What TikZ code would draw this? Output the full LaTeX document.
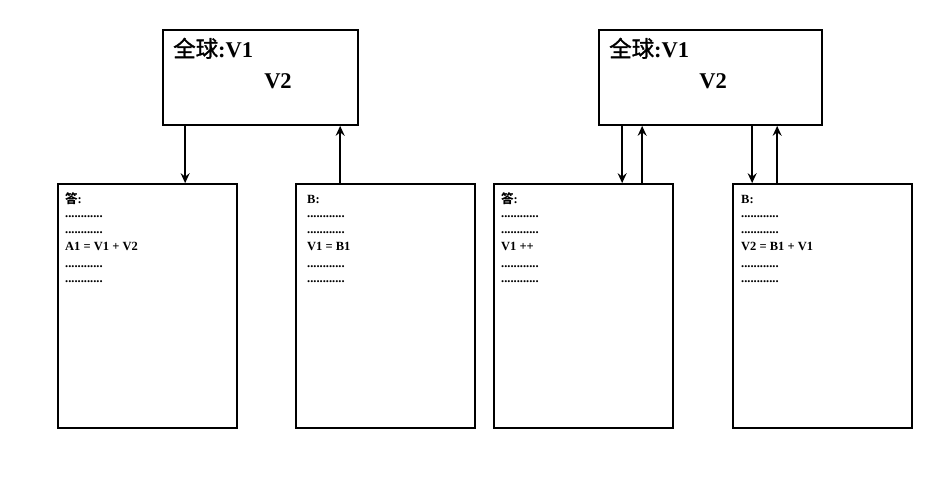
\documentclass[tikz,border=0pt]{standalone}
\usepackage{fontspec}
\setmainfont{Liberation Serif}
\newfontfamily\cjk{Noto Sans CJK SC}
\newfontfamily\cjkm[FakeBold=1.3]{Noto Sans CJK SC}
\usetikzlibrary{arrows.meta}
\tikzset{
  box/.style={draw=black, line width=1.7pt, fill=white, inner sep=0pt},
  arr/.style={line width=1.7pt, -{Stealth[length=10pt,width=9pt,inset=3.5pt]}},
  big/.style={font=\fontsize{22.5}{22.5}\selectfont\bfseries, inner sep=0pt, anchor=base west},
  small/.style={font=\fontsize{12.5}{12.5}\selectfont\bfseries, inner sep=0pt, anchor=base west},
}
\newcommand{\dotline}{............}
\begin{document}
\begin{tikzpicture}[x=1pt,y=-1pt]
\useasboundingbox (0,0) rectangle (935,482);
% top boxes
\node[box, minimum width=195pt, minimum height=95pt] (T1) at (260.5,77.5) {};
\node[box, minimum width=223pt, minimum height=95pt] (T2) at (710.5,77.5) {};
% bottom boxes
\node[box, minimum width=179pt, minimum height=244pt] (A) at (147.5,306) {};
\node[box, minimum width=179pt, minimum height=244pt] (B) at (385.5,306) {};
\node[box, minimum width=179pt, minimum height=244pt] (C) at (583.5,306) {};
\node[box, minimum width=179pt, minimum height=244pt] (D) at (822.5,306) {};
% top texts
\node[big] (t1a) at (173,57) {{\cjkm\mdseries 全球}:V1};
\node[big, anchor=base] (t1b) at (278,88) {V2};
\node[big] (t2a) at (609,57) {{\cjkm\mdseries 全球}:V1};
\node[big, anchor=base] (t2b) at (713,88) {V2};
% box A
\node[small] (a1) at (65,203) {{\cjk\bfseries 答}:};
\node[small] (a2) at (65,217) {\dotline};
\node[small] (a3) at (65,233) {\dotline};
\node[small] (a4) at (65,250) {A1 = V1 + V2};
\node[small] (a5) at (65,267) {\dotline};
\node[small] (a6) at (65,282) {\dotline};
% box B
\node[small] (b1) at (307,203) {B:};
\node[small] (b2) at (307,217) {\dotline};
\node[small] (b3) at (307,233) {\dotline};
\node[small] (b4) at (307,250) {V1 = B1};
\node[small] (b5) at (307,267) {\dotline};
\node[small] (b6) at (307,282) {\dotline};
% box C
\node[small] (c1) at (501,203) {{\cjk\bfseries 答}:};
\node[small] (c2) at (501,217) {\dotline};
\node[small] (c3) at (501,233) {\dotline};
\node[small] (c4) at (501,250) {V1 ++};
\node[small] (c5) at (501,267) {\dotline};
\node[small] (c6) at (501,282) {\dotline};
% box D
\node[small] (d1) at (741,203) {B:};
\node[small] (d2) at (741,217) {\dotline};
\node[small] (d3) at (741,233) {\dotline};
\node[small] (d4) at (741,250) {V2 = B1 + V1};
\node[small] (d5) at (741,267) {\dotline};
\node[small] (d6) at (741,282) {\dotline};
% connectors
\draw[arr] ([xshift=23pt]T1.south west) -- ([xshift=23pt]T1.south west |- A.north);
\draw[arr] ([xshift=178pt]T1.south west |- B.north) -- ([xshift=178pt]T1.south west);
\draw[arr] ([xshift=24pt]T2.south west) -- ([xshift=24pt]T2.south west |- C.north);
\draw[arr] ([xshift=44pt]T2.south west |- C.north) -- ([xshift=44pt]T2.south west);
\draw[arr] ([xshift=154pt]T2.south west) -- ([xshift=154pt]T2.south west |- D.north);
\draw[arr] ([xshift=179pt]T2.south west |- D.north) -- ([xshift=179pt]T2.south west);
\end{tikzpicture}
\end{document}
